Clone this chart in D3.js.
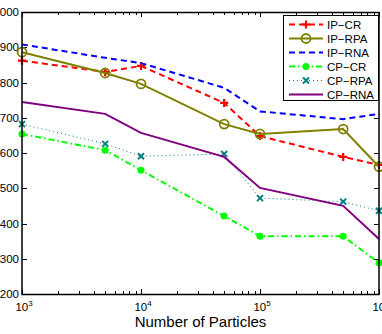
<!DOCTYPE html>
<html>
<head>
<meta charset="utf-8">
<script src="https://cdn.jsdelivr.net/npm/d3@7"></script>
<style>
  body { margin: 0; background: #fff; }
  svg { font-family: "Liberation Sans", Arial, sans-serif; display: block; }
</style>
</head>
<body>
<svg id="canvas"></svg>
<script>
const particles = [1e3, 5e3, 1e4, 5e4, 1e5, 5e5, 1e6]
const ipCR  = [862, 830, 847, 742, 648, 589, 566]
const ipRPA = [886, 827, 796, 682, 654, 668, 561]
const ipRNA = [908, 870, 855, 785, 718, 696, 711]
const cpCR  = [654, 608, 551, 421, 364, 364, 288]
const cpRPA = [682, 626, 591, 597, 472, 462, 436]
const cpRNA = [745, 711, 657, 589, 501, 450, 356]
const yTicks = [200, 300, 400, 500, 600, 700, 800, 900, 1000]
const xMajor = [1e3, 1e4, 1e5, 1e6]

const series = [
  { name: "IP\u2212CR",  values: ipCR,  color: "#ff0000", width: 2, dash: "6,4", marker: "plus" },
  { name: "IP\u2212RPA", values: ipRPA, color: "#808000", width: 2, dash: null, marker: "ocircle" },
  { name: "IP\u2212RNA", values: ipRNA, color: "#0000ff", width: 2, dash: "6,4", marker: null },
  { name: "CP\u2212CR",  values: cpCR,  color: "#00ff00", width: 2, dash: "6,3,1.5,3", marker: "dot" },
  { name: "CP\u2212RPA", values: cpRPA, color: "#008080", width: 1, dash: "1,3", marker: "cross" },
  { name: "CP\u2212RNA", values: cpRNA, color: "#800080", width: 2, dash: null, marker: null }
]

const width = 382
const height = 334
const padL = 22, padR = 379, padT = 12, padB = 294

const canvas = d3.select("#canvas").attr("width", width).attr("height", height)

const xScale = d3.scaleLog().domain([1e3, 1e6]).range([padL, padR])
const yScale = d3.scaleLinear().domain([200, 1000]).range([padB, padT])

// minor + major ticks along x
const allX = xScale.ticks()
const isMajor = (d) => Math.abs(Math.log10(d) - Math.round(Math.log10(d))) < 1e-9

const tickG = canvas.append("g").attr("stroke", "#000").attr("stroke-width", 1)
allX.forEach((d) => {
  const len = isMajor(d) ? 5 : 3
  const x = Math.round(xScale(d)) + 0.5
  tickG.append("line").attr("x1", x).attr("x2", x).attr("y1", padB).attr("y2", padB - len)
  tickG.append("line").attr("x1", x).attr("x2", x).attr("y1", padT).attr("y2", padT + len)
})
yTicks.forEach((d) => {
  const y = Math.round(yScale(d)) + 0.5
  tickG.append("line").attr("x1", padL).attr("x2", padL + 5).attr("y1", y).attr("y2", y)
  tickG.append("line").attr("x1", padR).attr("x2", padR - 5).attr("y1", y).attr("y2", y)
})

// y labels
canvas.append("g").selectAll("text")
  .data(yTicks).enter().append("text")
  .attr("x", padL - 3)
  .attr("y", (d) => yScale(d) + 4)
  .attr("text-anchor", "end")
  .attr("font-size", 11.5)
  .text((d) => d)

// x labels 10^n
const xl = canvas.append("g").selectAll("text")
  .data(xMajor).enter().append("text")
  .attr("x", (d) => xScale(d) + 2)
  .attr("y", 311)
  .attr("text-anchor", "middle")
  .attr("font-size", 11.5)
xl.append("tspan").text("10")
xl.append("tspan").attr("font-size", 8).attr("dy", -5).text((d) => Math.round(Math.log10(d)))

canvas.append("text")
  .attr("x", (padL + padR) / 2)
  .attr("y", 327)
  .attr("text-anchor", "middle")
  .attr("font-size", 15)
  .text("Number of Particles")

// lines
const line = d3.line().x((d) => xScale(d[0])).y((d) => yScale(d[1]))

const drawMarker = (g, type, x, y, color) => {
  if (type === "plus") {
    g.append("path").attr("d", `M${x - 4},${y}H${x + 4}M${x},${y - 4}V${y + 4}`)
      .attr("stroke", color).attr("stroke-width", 2.2)
  } else if (type === "ocircle") {
    g.append("circle").attr("cx", x).attr("cy", y).attr("r", 4.5)
      .attr("fill", "none").attr("stroke", color).attr("stroke-width", 1.8)
  } else if (type === "dot") {
    g.append("circle").attr("cx", x).attr("cy", y).attr("r", 3.5).attr("fill", color)
  } else if (type === "cross") {
    g.append("path").attr("d", `M${x - 3},${y - 3}L${x + 3},${y + 3}M${x - 3},${y + 3}L${x + 3},${y - 3}`)
      .attr("stroke", color).attr("stroke-width", 2)
  }
}

series.forEach((s) => {
  const pts = particles.map((p, i) => [p, s.values[i]])
  const g = canvas.append("g")
  g.append("path")
    .attr("d", line(pts))
    .attr("fill", "none")
    .attr("stroke", s.color)
    .attr("stroke-width", s.width)
    .attr("stroke-dasharray", s.dash)
  if (s.marker) {
    pts.forEach((p) => drawMarker(g, s.marker, xScale(p[0]), yScale(p[1]), s.color))
  }
})

// frame
canvas.append("rect")
  .attr("x", padL).attr("y", padT + 0.5)
  .attr("width", padR - padL).attr("height", padB - padT)
  .attr("fill", "none").attr("stroke", "#000").attr("stroke-width", 1.5)

// legend
const lg = canvas.append("g")
lg.append("rect")
  .attr("x", 283.5).attr("y", 15.5).attr("width", 95).attr("height", 85)
  .attr("fill", "#fff").attr("stroke", "#000").attr("stroke-width", 1)
series.forEach((s, i) => {
  const y = 24.5 + i * 14
  lg.append("line")
    .attr("x1", 289).attr("x2", 323).attr("y1", y).attr("y2", y)
    .attr("stroke", s.color).attr("stroke-width", s.width)
    .attr("stroke-dasharray", s.dash)
  if (s.marker) drawMarker(lg, s.marker, 306, y, s.color)
  lg.append("text")
    .attr("x", 327).attr("y", y + 4)
    .attr("font-size", 11.5)
    .text(s.name)
})
</script>
</body>
</html>
